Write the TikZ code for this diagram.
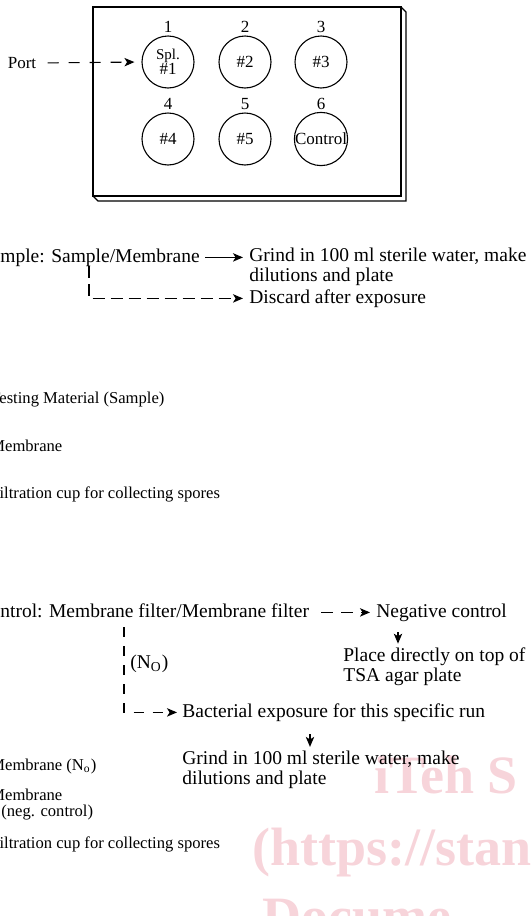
\documentclass[tikz,border=0pt]{standalone}
\usepackage{fontspec}
\setmainfont{Liberation Serif}
\usetikzlibrary{arrows.meta,calc}
\definecolor{wmpink}{RGB}{247,212,218}

\begin{document}
\begin{tikzpicture}[x=0.5pt,y=-0.5pt,>={Stealth[length=5pt,width=4.2pt,inset=1.3pt]},
txt/.style={inner sep=0pt,anchor=base west,align=left,font=\fontsize{9.75}{9.6}\selectfont},
sml/.style={inner sep=0pt,anchor=base west,align=left,font=\fontsize{8.3}{7.6}\selectfont},
num/.style={inner sep=0pt,font=\fontsize{8.5}{7.5}\selectfont},
well/.style={draw,circle,line width=.55pt,minimum size=26pt,inner sep=0pt,align=center,font=\fontsize{8.5}{7.5}\selectfont},
wm/.style={inner sep=0pt,anchor=base west,text=wmpink,font=\fontsize{27}{27}\selectfont\bfseries},
arr/.style={->,line width=.55pt},
darr/.style={->,line width=.55pt,dash pattern=on 5.5pt off 5pt}]
\useasboundingbox (0,0) rectangle (531,916);
% watermark
\node[wm] (wm1) at (374,793) {iTeh S};
\node[wm] (wm2) at (252,865) {(https://stan};
\node[wm] (wm3) at (262,934) {Docume};
% tray with six wells
\draw[line width=.6pt] (93,7) rectangle (401,196);
\draw[line width=.6pt] (401,7) -- (406,12) -- (406,201) -- (98,201) -- (93,196);
\foreach \n/\x/\y/\t in {1/168/62/{\fontsize{7.5}{7.5}\selectfont Spl.\\\#1},2/245/62/\#2,3/321/62/\#3,
  4/168/139/\#4,5/245/139/\#5,6/321/139/Control}{
  \node[well] (w\n) at (\x,\y) {\t};
  \node[num] (n\n) at (\x,\y-35) {\n};
}
\node[num] (port) at (22,63) {Port};
\draw[darr,shorten <=5.5pt,shorten >=3.5pt] (port.east) -- (w1.west);
% sample
\node[txt] (smp) at (-19.5,262) {Sample: Sample/Membrane};
\node[txt] (grd) at (249,281) {Grind in 100 ml sterile water, make\\dilutions and plate};
\node[txt] (dsc) at (249,303) {Discard after exposure};
\draw[arr] ([xshift=2.5pt,yshift=2.3pt]smp.base east) -- ($(smp.base -| grd.west)+(-6,-4.6)$);
\coordinate (sv) at (89,266);
\draw[->,line width=.55pt,dash pattern=on 6pt off 3pt] (sv) |- ([xshift=-3pt,yshift=2.3pt]dsc.base west);
\node[sml] (tm) at (-10,403) {Testing Material (Sample)};
\node[sml] (mb) at (-10,451) {Membrane};
\node[sml] (fc) at (-10,498) {Filtration cup for collecting spores};
% control
\node[txt] (ctl) at (-22.8,617) {Control: Membrane filter/Membrane filter};
\node[txt] (neg) at (376,617) {Negative control};
\node[txt] (plc) at (343,681) {Place directly on top of\\TSA agar plate};
\node[txt] (no) at (130,668) {(N\textsubscript{O})};
\node[txt] (bac) at (182,717) {Bacterial exposure for this specific run};
\node[txt] (grd2) at (182,784) {Grind in 100 ml sterile water, make\\dilutions and plate};
\draw[darr,dash pattern=on 6pt off 4pt] ([xshift=6pt,yshift=2.3pt]ctl.base east) -- ([xshift=-3pt,yshift=2.3pt]neg.base west);
\coordinate (na) at (398,632);
\draw[arr] (na) -- ([yshift=2pt]na |- plc.north);
\coordinate (cv) at (124,627);
\draw[->,line width=.55pt,dash pattern=on 5pt off 4.5pt] (cv) |- ([xshift=-2.5pt,yshift=2.3pt]bac.base west);
\coordinate (ba) at (310,734);
\draw[arr] (ba) -- ([yshift=2pt]ba |- grd2.north);
\node[sml] (mbn) at (-10,770) {Membrane (N\textsubscript{o})};
\node[sml] (mbc) at (-10,816) {Membrane\\\hspace*{5.5pt}(neg. control)};
\node[sml] (fc2) at (-10,848) {Filtration cup for collecting spores};
\end{tikzpicture}
\end{document}
